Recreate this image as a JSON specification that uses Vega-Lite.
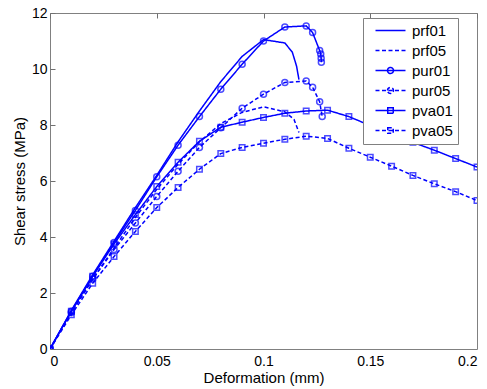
{
  "$schema": "https://vega.github.io/schema/vega-lite/v6.json",
  "width": 427,
  "height": 336,
  "autosize": "none",
  "padding": {"left": 50, "top": 13, "right": 10, "bottom": 40},
  "background": "white",
  "config": {
    "font": "Liberation Sans",
    "view": {"stroke": "#808080", "strokeWidth": 1},
    "axis": {
      "grid": true,
      "gridColor": "#707070",
      "gridOpacity": 1,
      "gridWidth": 1,
      "gridDash": [5, 2000],
      "domain": false,
      "ticks": false,
      "labelColor": "#000000",
      "titleColor": "#000000",
      "labelFontSize": 14,
      "titleFontSize": 15,
      "titleFontWeight": "normal"
    },
    "legend": {
      "labelFontSize": 15,
      "labelColor": "#000000",
      "strokeColor": "#808080",
      "fillColor": "white",
      "padding": 5,
      "rowPadding": 4,
      "labelOffset": 29,
      "symbolSize": 100,
      "symbolStrokeWidth": 1.5
    }
  },
  "datasets": {
    "curves": [
      {"series": "prf01", "x": 0, "y": 0},
      {"series": "prf01", "x": 0.01, "y": 1.38},
      {"series": "prf01", "x": 0.02, "y": 2.65},
      {"series": "prf01", "x": 0.03, "y": 3.85},
      {"series": "prf01", "x": 0.04, "y": 5.05},
      {"series": "prf01", "x": 0.05, "y": 6.2},
      {"series": "prf01", "x": 0.06, "y": 7.4},
      {"series": "prf01", "x": 0.07, "y": 8.5},
      {"series": "prf01", "x": 0.08, "y": 9.55},
      {"series": "prf01", "x": 0.09, "y": 10.45},
      {"series": "prf01", "x": 0.1, "y": 11.05},
      {"series": "prf01", "x": 0.11, "y": 10.93},
      {"series": "prf01", "x": 0.1135, "y": 10.6},
      {"series": "prf01", "x": 0.1155, "y": 10.1},
      {"series": "prf01", "x": 0.1166, "y": 9.62},
      {"series": "prf05", "x": 0, "y": 0},
      {"series": "prf05", "x": 0.01, "y": 1.3},
      {"series": "prf05", "x": 0.02, "y": 2.5},
      {"series": "prf05", "x": 0.03, "y": 3.6},
      {"series": "prf05", "x": 0.04, "y": 4.7},
      {"series": "prf05", "x": 0.05, "y": 5.7},
      {"series": "prf05", "x": 0.06, "y": 6.6},
      {"series": "prf05", "x": 0.07, "y": 7.4},
      {"series": "prf05", "x": 0.08, "y": 8.05},
      {"series": "prf05", "x": 0.09, "y": 8.45},
      {"series": "prf05", "x": 0.1, "y": 8.65},
      {"series": "prf05", "x": 0.11, "y": 8.47},
      {"series": "prf05", "x": 0.1143, "y": 8.2},
      {"series": "prf05", "x": 0.1166, "y": 7.73},
      {"series": "pur01", "x": 0, "y": 0},
      {"series": "pur01", "x": 0.01, "y": 1.35},
      {"series": "pur01", "x": 0.02, "y": 2.6},
      {"series": "pur01", "x": 0.03, "y": 3.8},
      {"series": "pur01", "x": 0.04, "y": 4.95},
      {"series": "pur01", "x": 0.05, "y": 6.15},
      {"series": "pur01", "x": 0.06, "y": 7.28},
      {"series": "pur01", "x": 0.07, "y": 8.3},
      {"series": "pur01", "x": 0.08, "y": 9.28},
      {"series": "pur01", "x": 0.09, "y": 10.17},
      {"series": "pur01", "x": 0.1, "y": 11.0},
      {"series": "pur01", "x": 0.11, "y": 11.5},
      {"series": "pur01", "x": 0.12, "y": 11.54},
      {"series": "pur01", "x": 0.123, "y": 11.3},
      {"series": "pur01", "x": 0.1263, "y": 10.66},
      {"series": "pur01", "x": 0.1268, "y": 10.54},
      {"series": "pur01", "x": 0.127, "y": 10.38},
      {"series": "pur01", "x": 0.1271, "y": 10.24},
      {"series": "pur05", "x": 0, "y": 0},
      {"series": "pur05", "x": 0.01, "y": 1.3},
      {"series": "pur05", "x": 0.02, "y": 2.5},
      {"series": "pur05", "x": 0.03, "y": 3.55},
      {"series": "pur05", "x": 0.04, "y": 4.5},
      {"series": "pur05", "x": 0.05, "y": 5.45},
      {"series": "pur05", "x": 0.06, "y": 6.35},
      {"series": "pur05", "x": 0.07, "y": 7.2},
      {"series": "pur05", "x": 0.08, "y": 7.9},
      {"series": "pur05", "x": 0.09, "y": 8.6},
      {"series": "pur05", "x": 0.1, "y": 9.1},
      {"series": "pur05", "x": 0.11, "y": 9.52},
      {"series": "pur05", "x": 0.12, "y": 9.57},
      {"series": "pur05", "x": 0.123, "y": 9.35},
      {"series": "pur05", "x": 0.1263, "y": 8.83},
      {"series": "pur05", "x": 0.1275, "y": 8.3},
      {"series": "pva01", "x": 0, "y": 0},
      {"series": "pva01", "x": 0.01, "y": 1.35},
      {"series": "pva01", "x": 0.02, "y": 2.6},
      {"series": "pva01", "x": 0.03, "y": 3.75},
      {"series": "pva01", "x": 0.04, "y": 4.8},
      {"series": "pva01", "x": 0.05, "y": 5.8},
      {"series": "pva01", "x": 0.06, "y": 6.67},
      {"series": "pva01", "x": 0.07, "y": 7.42},
      {"series": "pva01", "x": 0.08, "y": 7.92},
      {"series": "pva01", "x": 0.09, "y": 8.1},
      {"series": "pva01", "x": 0.1, "y": 8.27},
      {"series": "pva01", "x": 0.11, "y": 8.42},
      {"series": "pva01", "x": 0.12, "y": 8.5},
      {"series": "pva01", "x": 0.13, "y": 8.53},
      {"series": "pva01", "x": 0.14, "y": 8.3},
      {"series": "pva01", "x": 0.15, "y": 7.98},
      {"series": "pva01", "x": 0.16, "y": 7.68},
      {"series": "pva01", "x": 0.17, "y": 7.38},
      {"series": "pva01", "x": 0.18, "y": 7.1},
      {"series": "pva01", "x": 0.19, "y": 6.8},
      {"series": "pva01", "x": 0.2, "y": 6.5},
      {"series": "pva05", "x": 0, "y": 0},
      {"series": "pva05", "x": 0.01, "y": 1.22},
      {"series": "pva05", "x": 0.02, "y": 2.35},
      {"series": "pva05", "x": 0.03, "y": 3.3},
      {"series": "pva05", "x": 0.04, "y": 4.2},
      {"series": "pva05", "x": 0.05, "y": 5.05},
      {"series": "pva05", "x": 0.06, "y": 5.77},
      {"series": "pva05", "x": 0.07, "y": 6.42},
      {"series": "pva05", "x": 0.08, "y": 6.98},
      {"series": "pva05", "x": 0.09, "y": 7.2},
      {"series": "pva05", "x": 0.1, "y": 7.35},
      {"series": "pva05", "x": 0.11, "y": 7.49},
      {"series": "pva05", "x": 0.12, "y": 7.6},
      {"series": "pva05", "x": 0.13, "y": 7.52},
      {"series": "pva05", "x": 0.14, "y": 7.17},
      {"series": "pva05", "x": 0.15, "y": 6.85},
      {"series": "pva05", "x": 0.16, "y": 6.53},
      {"series": "pva05", "x": 0.17, "y": 6.2},
      {"series": "pva05", "x": 0.18, "y": 5.9},
      {"series": "pva05", "x": 0.19, "y": 5.62},
      {"series": "pva05", "x": 0.2, "y": 5.3}
    ]
  },
  "data": {"name": "curves"},
  "resolve": {"axis": {"x": "independent", "y": "independent"}},
  "layer": [
    {
      "mark": {"type": "line", "strokeWidth": 1.5, "clip": true},
      "encoding": {
        "x": {"field": "x", "type": "quantitative", "scale": {"domain": [0, 0.2], "nice": false},
              "axis": {"values": [0, 0.05, 0.1, 0.15, 0.2], "format": "~g", "title": "Deformation (mm)", "titlePadding": 2, "labelPadding": 5}},
        "y": {"field": "y", "type": "quantitative", "scale": {"domain": [0, 12], "nice": false},
              "axis": {"values": [0, 2, 4, 6, 8, 10, 12], "title": "Shear stress (MPa)", "titlePadding": 4, "labelPadding": 3}},
        "detail": {"field": "series"},
        "color": {
          "field": "series", "type": "nominal",
          "scale": {"domain": ["prf01", "prf05", "pur01", "pur05", "pva01", "pva05"], "range": ["#0000ff", "#0000ff", "#0000ff", "#0000ff", "#0000ff", "#0000ff"]},
          "legend": {
            "title": null, "orient": "none", "legendX": 313, "legendY": 5,
            "labelExpr": "datum.label + '   '",
            "encode": {"symbols": {"update": {
              "shape": {"signal": "indexof(datum.value,'pur')>=0 ? 'M0,0H6M2.4,0A0.6,0.6,0,1,1,3.6,0A0.6,0.6,0,1,1,2.4,0Z' : (indexof(datum.value,'pva')>=0 ? 'M0,0H6M2.45,-0.55H3.55V0.55H2.45Z' : 'M0,0H6')"},
              "fill": {"value": "transparent"}
            }}}
          }
        },
        "strokeDash": {
          "field": "series", "type": "nominal",
          "scale": {"domain": ["prf01", "prf05", "pur01", "pur05", "pva01", "pva05"], "range": [[1, 0], [4, 2.5], [1, 0], [4, 2.5], [1, 0], [4, 2.5]]},
          "legend": {"title": null, "orient": "none", "legendX": 313, "legendY": 5}
        }
      }
    },
    {
      "transform": [{"filter": "indexof(datum.series,'pur')>=0"}],
      "mark": {"type": "point", "shape": "circle", "filled": false, "color": "#0000ff", "size": 36, "strokeWidth": 1.5, "clip": true},
      "encoding": {
        "x": {"field": "x", "type": "quantitative", "axis": null},
        "y": {"field": "y", "type": "quantitative", "axis": null}
      }
    },
    {
      "transform": [{"filter": "indexof(datum.series,'pva')>=0"}],
      "mark": {"type": "point", "shape": "square", "filled": false, "color": "#0000ff", "size": 30, "strokeWidth": 1.5, "clip": true},
      "encoding": {
        "x": {"field": "x", "type": "quantitative",
              "axis": {"orient": "top", "values": [0, 0.05, 0.1, 0.15, 0.2], "labels": false, "title": null}},
        "y": {"field": "y", "type": "quantitative",
              "axis": {"orient": "right", "values": [0, 2, 4, 6, 8, 10, 12], "labels": false, "title": null}}
      }
    }
  ]
}
